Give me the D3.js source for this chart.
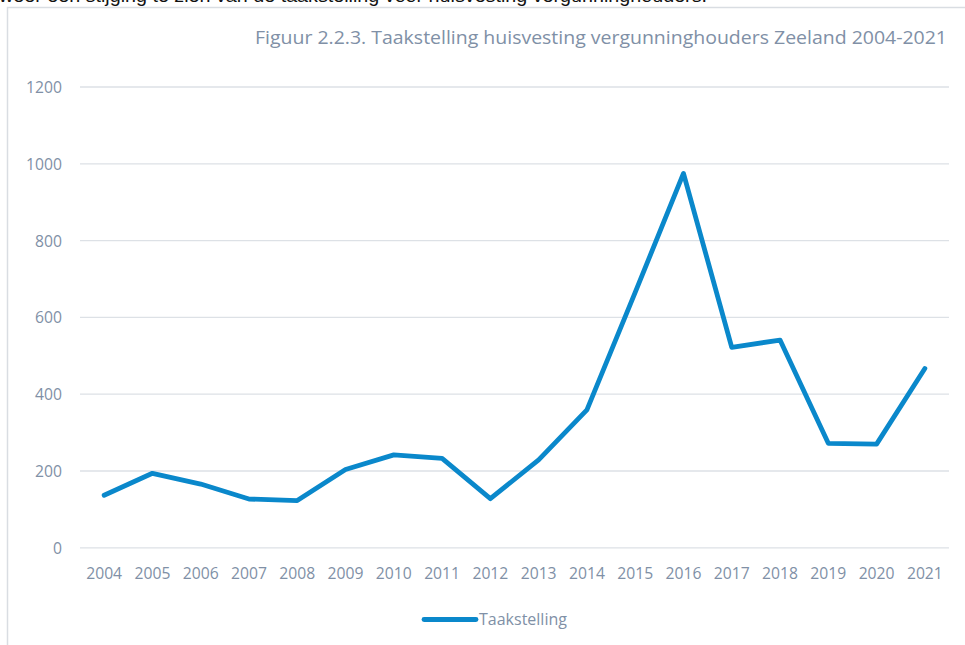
<!DOCTYPE html>
<html>
<head>
<meta charset="utf-8">
<script src="https://cdn.jsdelivr.net/npm/d3@7"></script>
<style>
  html, body { margin: 0; padding: 0; background: #fff; }
  svg { display: block; }
</style>
</head>
<body>
<svg id="chart" width="965" height="645"></svg>
<script>
const years = ["2004","2005","2006","2007","2008","2009","2010","2011","2012","2013","2014","2015","2016","2017","2018","2019","2020","2021"];
const taakstelling = [137, 194, 166, 127, 123, 204, 242, 233, 128, 229, 359, 665, 975, 522, 541, 272, 270, 467];
const yTicks = [0, 200, 400, 600, 800, 1000, 1200];
const seriesName = "Taakstelling";
const titleText = "Figuur 2.2.3. Taakstelling huisvesting vergunninghouders Zeeland 2004-2021";
const topText = "weer een stijging te zien van de taakstelling voor huisvesting vergunninghouders.";

const svg = d3.select("#chart");
const lineColor = "#0a88cb";
const textColor = "#8090a6";
const gridColor = "#dde1e6";
const font = "'Open Sans', sans-serif";

// cut-off paragraph text at top
svg.append("text")
  .attr("x", -1).attr("y", 2)
  .attr("font-family", "Liberation Sans, Arial, sans-serif")
  .attr("font-size", 18)
  .attr("fill", "#111")
  .attr("textLength", 708)
  .attr("lengthAdjust", "spacingAndGlyphs")
  .text(topText);

// chart frame (left + top borders)
svg.append("path")
  .attr("d", "M7.5,645 V7.5 H965")
  .attr("fill", "none")
  .attr("stroke", "#d9dde2")
  .attr("stroke-width", 1.5);

const x = d3.scaleBand().domain(years).range([80, 949]);
const y = d3.scaleLinear().domain([0, 1200]).range([547.8, 87]);

// gridlines
svg.append("g").selectAll("line").data(yTicks).join("line")
  .attr("x1", 80).attr("x2", 949)
  .attr("y1", d => y(d)).attr("y2", d => y(d))
  .attr("stroke", gridColor).attr("stroke-width", 1.3);

// y axis
const yAxis = svg.append("g").attr("transform", "translate(62,0)")
  .call(d3.axisLeft(y).tickValues(yTicks).tickSize(0).tickPadding(0).tickFormat(d3.format("d")));
yAxis.select(".domain").remove();
yAxis.selectAll("text")
  .attr("font-family", font).attr("font-size", 15.7).attr("fill", textColor)
  .attr("dy", "0.35em");

// x axis
const xAxis = svg.append("g").attr("transform", `translate(0,${y(0)})`)
  .call(d3.axisBottom(x).tickSize(0).tickPadding(20));
xAxis.select(".domain").remove();
xAxis.selectAll("text")
  .attr("font-family", font).attr("font-size", 15.7).attr("fill", textColor);

// line
const line = d3.line()
  .x((d, i) => x(years[i]) + x.bandwidth() / 2)
  .y(d => y(d));
svg.append("path")
  .datum(taakstelling)
  .attr("d", line)
  .attr("fill", "none")
  .attr("stroke", lineColor)
  .attr("stroke-width", 4.8)
  .attr("stroke-linejoin", "round")
  .attr("stroke-linecap", "round");

// title
svg.append("text")
  .attr("x", 947).attr("y", 44)
  .attr("text-anchor", "end")
  .attr("font-family", font).attr("font-size", 18)
  .attr("fill", textColor)
  .attr("textLength", 692).attr("lengthAdjust", "spacingAndGlyphs")
  .text(titleText);

// legend
const lg = svg.append("g");
lg.append("line")
  .attr("x1", 424).attr("x2", 476).attr("y1", 619.5).attr("y2", 619.5)
  .attr("stroke", lineColor).attr("stroke-width", 4.8).attr("stroke-linecap", "round");
lg.append("text")
  .attr("x", 479).attr("y", 625)
  .attr("font-family", font).attr("font-size", 16)
  .attr("fill", textColor)
  .text(seriesName);
</script>
</body>
</html>
